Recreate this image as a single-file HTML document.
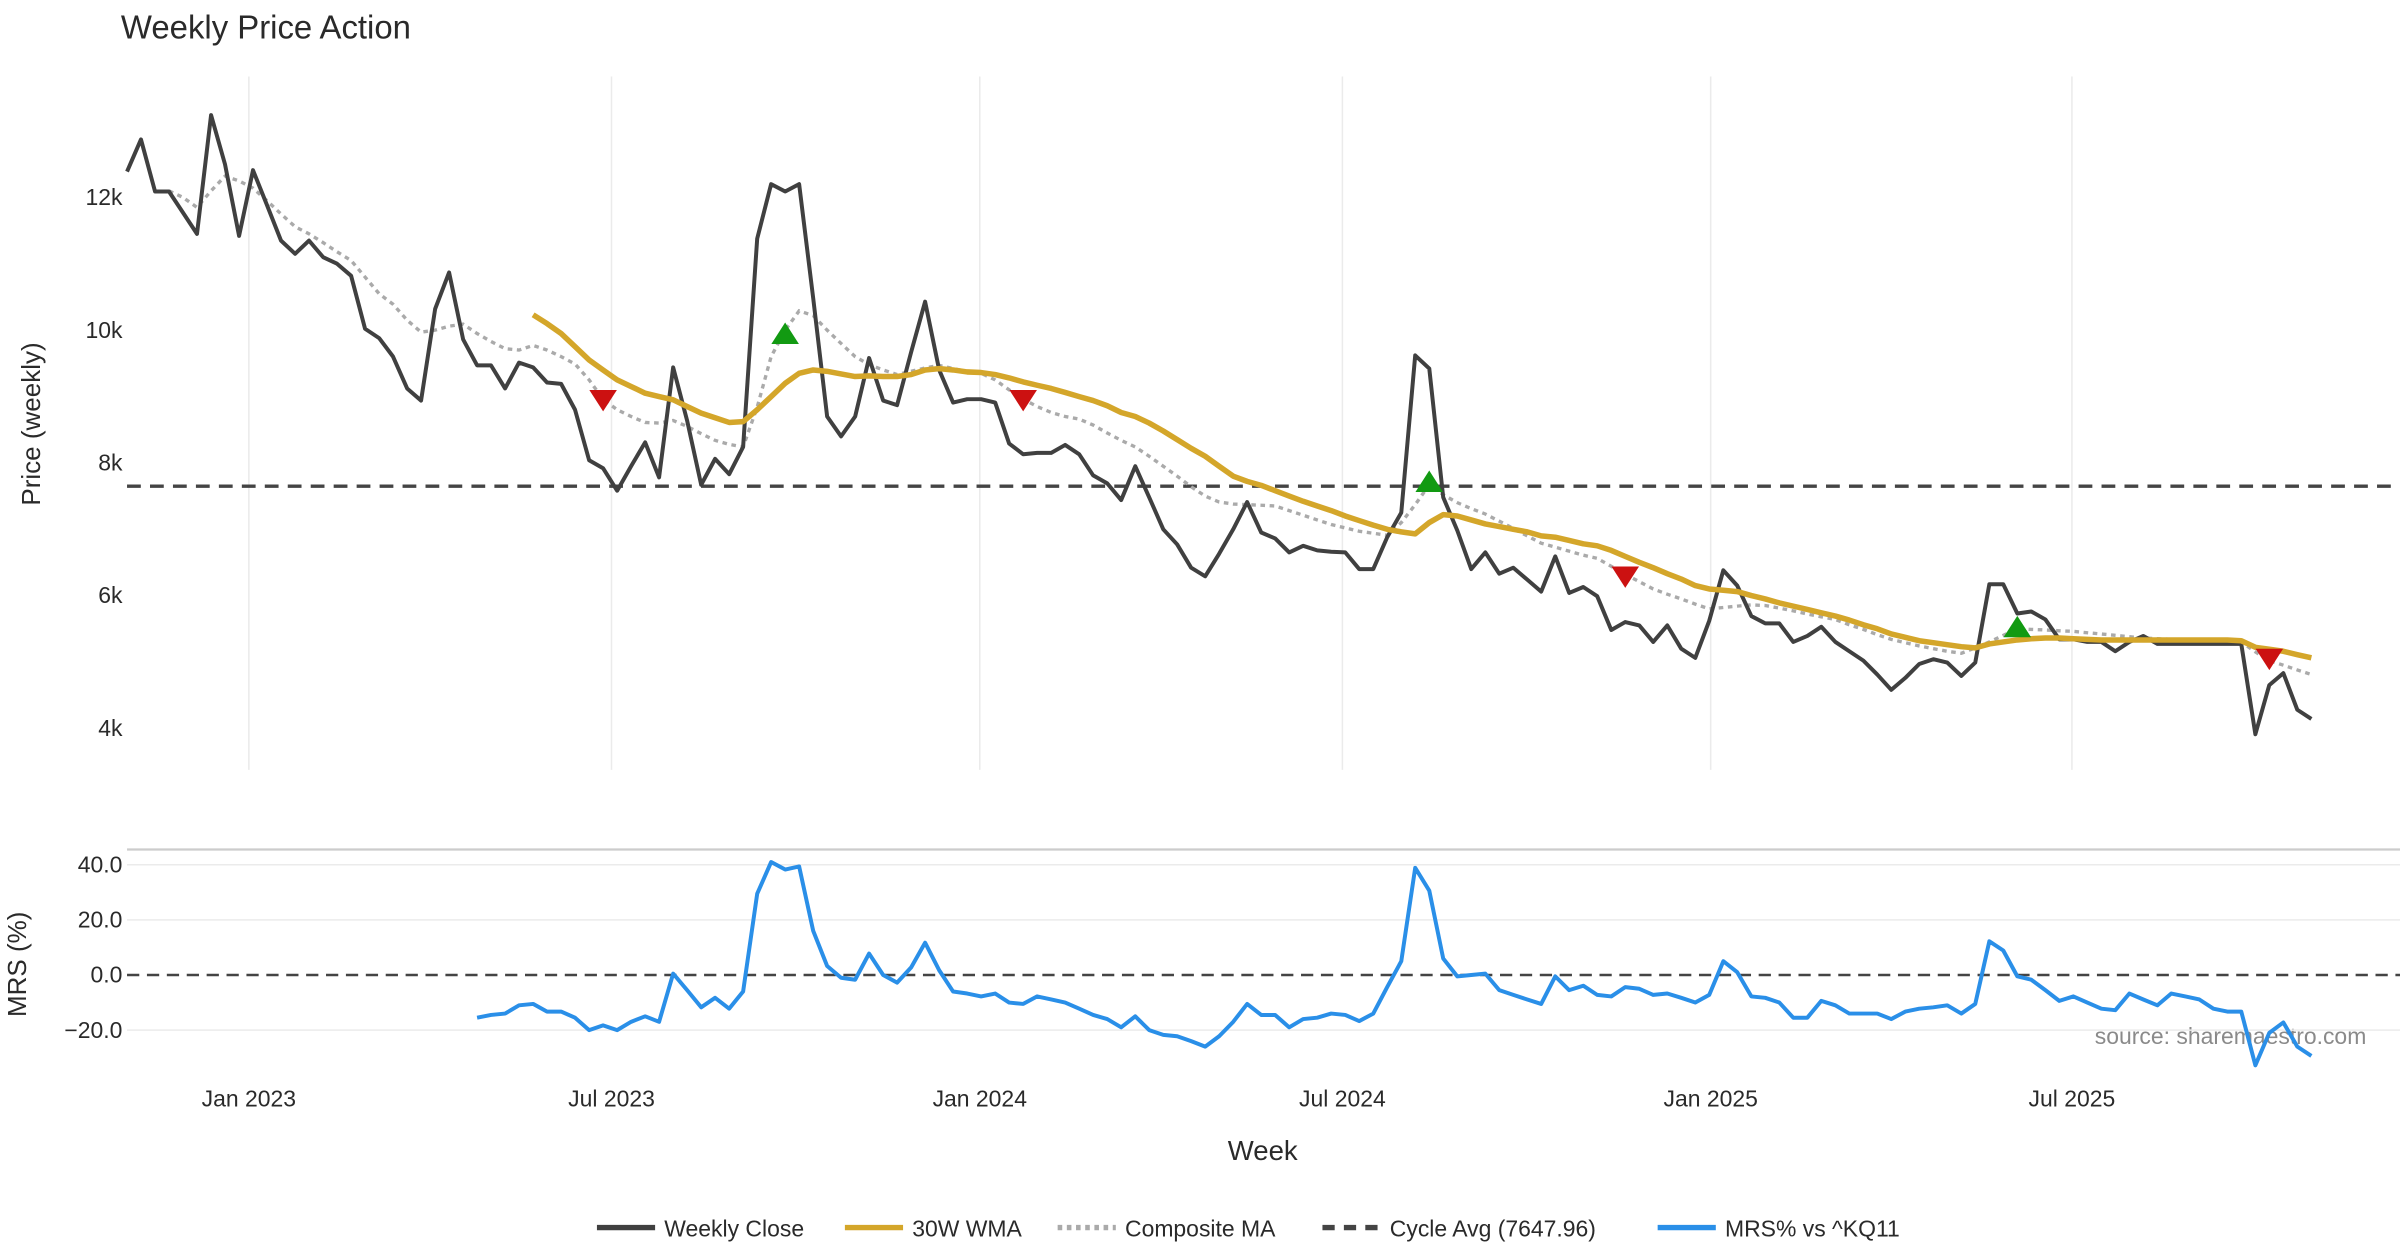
<!DOCTYPE html>
<html><head><meta charset="utf-8"><style>
html,body{margin:0;padding:0;background:#fff;}
svg{display:block;font-family:"Liberation Sans","DejaVu Sans",sans-serif;}
</style></head><body>
<svg id="chart" width="2400" height="1260" viewBox="0 0 1568 823.2" preserveAspectRatio="none" xmlns="http://www.w3.org/2000/svg">
<text x="79" y="25" font-size="21.5" fill="#2a2a2a">Weekly Price Action</text>
<text transform="translate(26,277) rotate(-90)" text-anchor="middle" font-size="17" fill="#2a2a2a">Price (weekly)</text>
<text transform="translate(17,630) rotate(-90)" text-anchor="middle" font-size="17" fill="#2a2a2a">MRS (%)</text>
<text x="825" y="758" text-anchor="middle" font-size="18" fill="#2a2a2a">Week</text>
<text x="1546" y="682" text-anchor="end" font-size="15" fill="#8a8a8a">source: sharemaestro.com</text>
<line x1="83" y1="555" x2="1568" y2="555" stroke="#cccccc" stroke-width="1.5"/>
<g id="grid"></g><g id="series"></g><g id="axes"></g>
<g id="legend"></g>
</svg>
<script>
const close = [12390,12875,12090,12090,11770,11450,13240,12500,11420,12410,11880,11350,11150,11350,11100,11000,10820,10020,9880,9600,9120,8940,10320,10870,9860,9470,9470,9120,9510,9440,9210,9190,8800,8040,7920,7580,7950,8310,7780,9440,8640,7670,8060,7830,8240,11380,12200,12090,12200,10480,8700,8400,8700,9580,8940,8870,9670,10430,9400,8910,8960,8960,8910,8290,8130,8150,8150,8270,8130,7810,7690,7440,7950,7480,7000,6770,6420,6290,6630,7000,7410,6950,6860,6650,6750,6680,6660,6650,6400,6400,6880,7250,9620,9420,7480,6980,6400,6650,6330,6420,6240,6060,6590,6040,6130,5990,5480,5600,5550,5300,5550,5200,5060,5620,6380,6150,5690,5580,5580,5300,5390,5530,5300,5160,5020,4810,4580,4760,4970,5040,4990,4790,4990,6170,6170,5730,5760,5640,5340,5340,5300,5300,5160,5300,5390,5270,5270,5270,5270,5270,5270,5270,3910,4650,4830,4280,4140];
const wmaStart = 29;
const wma = [10230,10100,9950,9750,9550,9400,9250,9150,9050,9000,8950,8850,8750,8680,8610,8620,8800,9000,9200,9350,9400,9380,9340,9300,9310,9300,9300,9330,9400,9420,9400,9370,9360,9330,9280,9220,9170,9120,9060,9000,8940,8860,8760,8700,8600,8480,8350,8220,8100,7950,7800,7720,7660,7580,7500,7420,7350,7280,7200,7130,7060,7000,6960,6930,7100,7220,7200,7140,7080,7040,7000,6960,6900,6880,6830,6780,6750,6680,6590,6500,6420,6330,6250,6150,6100,6080,6060,6000,5950,5890,5840,5790,5740,5690,5630,5560,5500,5420,5370,5320,5290,5260,5230,5210,5270,5300,5330,5350,5360,5360,5350,5340,5330,5330,5330,5330,5330,5330,5330,5330,5330,5330,5320,5220,5190,5160,5110,5060];
const compStart = 3;
const comp = [12100,12000,11850,12100,12320,12250,12140,11950,11750,11560,11450,11320,11180,11050,10800,10550,10390,10150,9970,10000,10060,10090,9950,9830,9720,9700,9770,9700,9600,9490,9250,8960,8800,8700,8610,8600,8640,8550,8440,8340,8280,8240,8840,9600,10000,10290,10220,10000,9800,9600,9480,9400,9330,9380,9430,9470,9420,9380,9350,9250,9100,8960,8850,8760,8700,8660,8570,8450,8340,8240,8100,7950,7800,7640,7500,7410,7380,7370,7360,7350,7280,7210,7140,7070,7020,6970,6940,6910,7100,7370,7670,7520,7400,7310,7230,7120,7010,6900,6790,6730,6670,6610,6560,6440,6320,6210,6100,6020,5950,5870,5800,5820,5840,5860,5850,5810,5770,5720,5680,5640,5560,5490,5410,5340,5290,5240,5200,5160,5130,5210,5300,5400,5500,5490,5480,5470,5460,5440,5420,5400,5380,5360,5350,5340,5330,5320,5310,5300,5300,5150,5020,4950,4880,4810];
const mrsStart = 25;
const mrs = [-15.5,-14.5,-14,-11,-10.5,-13.3,-13.3,-15.5,-20,-18.3,-20,-17,-15,-17,0.5,-5.5,-11.7,-8.3,-12.2,-6,29.5,41,38.3,39.4,16,3.3,-1,-1.7,7.8,0,-2.8,2.8,11.7,1.7,-6,-6.7,-7.8,-6.7,-10,-10.5,-7.8,-8.9,-10,-12.2,-14.5,-16,-19,-15,-20,-21.7,-22.2,-24,-26,-22.2,-17,-10.5,-14.5,-14.5,-19,-16,-15.5,-14,-14.5,-16.7,-14,-4.4,5,38.9,30.6,6,-0.5,0,0.5,-5.5,-7.2,-8.9,-10.5,-0.5,-5.5,-3.9,-7.2,-7.8,-4.4,-5,-7.2,-6.7,-8.3,-10,-7.2,5,1,-7.8,-8.3,-10,-15.5,-15.5,-9.4,-11,-14,-14,-14,-16,-13.3,-12.2,-11.7,-11,-14,-10.5,12.2,8.9,-0.5,-1.7,-5.5,-9.4,-7.8,-10,-12.2,-12.8,-6.7,-8.9,-11,-6.7,-7.8,-8.9,-12.2,-13.3,-13.3,-32.8,-21,-17.2,-26,-29.4];
const buyIdx = [47,93,135];
const buyPrice = [9930,7700,5510];
const sellIdx = [34,64,107,153];
const sellPrice = [8960,8960,6300,5060];
const cycleAvg = 7647.96;
const priceTicks = [4000,6000,8000,10000,12000];
const priceTickLabels = ["4k","6k","8k","10k","12k"];
const mrsTicks = [-20,0,20,40];
const mrsTickLabels = ["\u221220.0","0.0","20.0","40.0"];
const dateTicks = [8.7,34.6,60.9,86.8,113.1,138.9];
const dateTickLabels = ["Jan 2023","Jul 2023","Jan 2024","Jul 2024","Jan 2025","Jul 2025"];

const NS="http://www.w3.org/2000/svg";
const X=i=>83+i*9.148;
const Y=v=>129+(12000-v)*0.04335;
const M=v=>637-v*1.8;
function mk(parent,tag,attrs){const e=document.createElementNS(NS,tag);for(const k in attrs)e.setAttribute(k,attrs[k]);document.getElementById(parent).appendChild(e);return e;}
function pts(arr,start,fy){return arr.map((v,k)=>X(start+k).toFixed(1)+","+fy(v).toFixed(1)).join(" ");}

dateTicks.forEach((t,k)=>{
  const g=mk('grid','line',{x1:X(t),x2:X(t),y1:50,y2:503,stroke:'#ebebeb','stroke-width':1});
  
  
  const l=mk('axes','text',{x:X(t),y:723,'text-anchor':'middle','font-size':15,fill:'#2a2a2a'});
  l.textContent=dateTickLabels[k];
  
  
});
priceTicks.forEach((t,k)=>{
  const l=mk('axes','text',{x:80,y:Y(t)+5,'text-anchor':'end','font-size':15,fill:'#2a2a2a'});
  l.textContent=priceTickLabels[k];
  
  
});
mrsTicks.forEach((t,k)=>{
  if(t!==0){const g=mk('grid','line',{x1:83,x2:1568,y1:M(t),y2:M(t),stroke:'#ebebeb','stroke-width':1});
  
  }
  const l=mk('axes','text',{x:80,y:M(t)+5,'text-anchor':'end','font-size':15,fill:'#2a2a2a'});
  l.textContent=mrsTickLabels[k];
  
  
});
let e;
e=mk('series','line',{x1:83,x2:1568,y1:Y(cycleAvg),y2:Y(cycleAvg),stroke:'#444','stroke-width':2.2,'stroke-dasharray':'9,6'});


e=mk('series','line',{x1:83,x2:1568,y1:M(0),y2:M(0),stroke:'#444','stroke-width':1.6,'stroke-dasharray':'8,5'});


e=mk('series','polyline',{points:pts(comp,compStart,Y),fill:'none',stroke:'#aaaaaa','stroke-width':2.2,'stroke-dasharray':'3,3'});


e=mk('series','polyline',{points:pts(close,0,Y),fill:'none',stroke:'#404040','stroke-width':2.6,'stroke-linejoin':'round'});


e=mk('series','polyline',{points:pts(wma,wmaStart,Y),fill:'none',stroke:'#d4a62a','stroke-width':3.6,'stroke-linejoin':'round'});


e=mk('series','polyline',{points:pts(mrs,mrsStart,M),fill:'none',stroke:'#2a8fe8','stroke-width':2.6,'stroke-linejoin':'round'});


buyIdx.forEach((i,k)=>{const x=X(i),y=Y(buyPrice[k]);
  const t=mk('series','polygon',{points:`${x-9},${y+6} ${x+9},${y+6} ${x},${y-8}`,fill:'#129a12'});
  
  });
sellIdx.forEach((i,k)=>{const x=X(i),y=Y(sellPrice[k]);
  const t=mk('series','polygon',{points:`${x-9},${y-6} ${x+9},${y-6} ${x},${y+8}`,fill:'#cc1111'});
  
  });

const legItems=[["Weekly Close","#404040","",390],["30W WMA","#d4a62a","",552],["Composite MA","#aaaaaa","3,3",691],["Cycle Avg (7647.96)","#444","8,6",864],["MRS% vs ^KQ11","#2a8fe8","",1083]];
legItems.forEach(it=>{
  const l=mk('legend','line',{x1:it[3],x2:it[3]+38,y1:802,y2:802,stroke:it[1],'stroke-width':3.5});
  if(it[2])l.setAttribute('stroke-dasharray',it[2]);
  
  
  const t=mk('legend','text',{x:it[3]+44,y:808,'font-size':15,fill:'#2a2a2a'});
  t.textContent=it[0];
  
  
});
</script>
</body></html>
